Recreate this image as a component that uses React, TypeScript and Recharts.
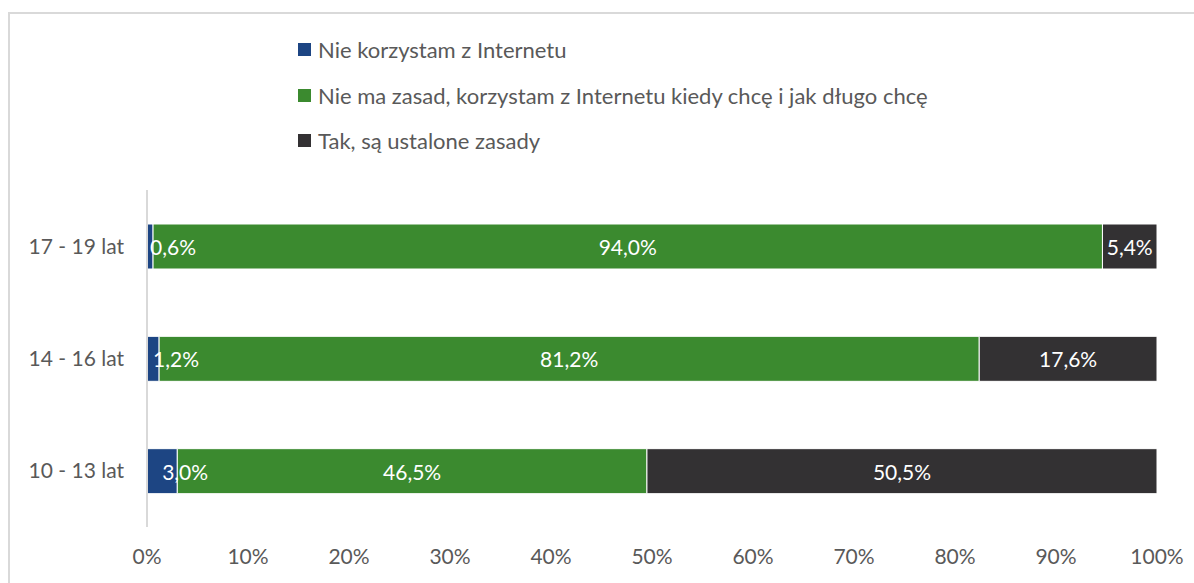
import React from "react";
import { BarChart, Bar, XAxis, YAxis, LabelList } from "recharts";

const categories = ["17 - 19 lat", "14 - 16 lat", "10 - 13 lat"];
const notUsing = [0.6, 1.2, 3.0];
const noRules = [94.0, 81.2, 46.5];
const rules = [5.4, 17.6, 50.5];
const xTicks = [0, 10, 20, 30, 40, 50, 60, 70, 80, 90, 100];
const seriesNames = [
  "Nie korzystam z Internetu",
  "Nie ma zasad, korzystam z Internetu kiedy chcę i jak długo chcę",
  "Tak, są ustalone zasady",
];
const colors = ["#1d4583", "#3b8a2f", "#333133"];

const data = categories.map((c, i) => ({
  name: c,
  a: notUsing[i],
  b: noRules[i],
  c: rules[i],
}));

const FONT = "Lato, 'Open Sans', sans-serif";

const fmt = (v: number) => v.toFixed(1).replace(".", ",") + "%";

const BarLabel = (props: any) => {
  const { x, y, width, height, value } = props;
  const narrow = width < 40;
  return (
    <text
      x={x + width / 2}
      y={y + height / 2}
      fill="#ffffff"
      fontSize={21}
      fontFamily={FONT}
      textAnchor={narrow ? "start" : "middle"}
      dominantBaseline="central"
    >
      {fmt(value)}
    </text>
  );
};

const LegendBlock = () => (
  <div
    style={{
      position: "absolute",
      left: 298,
      top: 27,
      fontFamily: FONT,
      fontSize: 22,
      color: "#595959",
      whiteSpace: "nowrap",
    }}
  >
    {seriesNames.map((n, i) => (
      <div key={n} style={{ display: "flex", alignItems: "center", height: 45.5 }}>
        <span
          style={{
            display: "inline-block",
            width: 13,
            height: 13,
            background: colors[i],
            marginRight: 7,
          }}
        />
        <span>{n}</span>
      </div>
    ))}
  </div>
);

export default function App() {
  return (
    <div style={{ position: "relative", width: 1194, height: 583, background: "#fff" }}>
      <style>{"body{margin:0;overflow:hidden;background:#fff}"}</style>
      <div
        style={{
          position: "absolute",
          left: 8,
          top: 12,
          width: 1186,
          height: 571,
          borderLeft: "2px solid #d9d9d9",
          borderTop: "2px solid #d9d9d9",
          boxSizing: "border-box",
        }}
      />
      <LegendBlock />
      <div style={{ position: "absolute", left: 0, top: 0 }}>
        <BarChart
          width={1194}
          height={583}
          data={data}
          layout="vertical"
          margin={{ top: 190, right: 37, left: 0, bottom: 0 }}
          barSize={45}
        >
          <XAxis
            type="number"
            domain={[0, 100]}
            ticks={xTicks}
            tickFormatter={(v: number) => `${v}%`}
            axisLine={false}
            tickLine={false}
            height={56}
            tickMargin={16}
            tick={{ fill: "#595959", fontSize: 21, fontFamily: FONT }}
            interval={0}
          />
          <YAxis
            type="category"
            dataKey="name"
            width={147}
            axisLine={{ stroke: "#d9d9d9", strokeWidth: 2 }}
            tickLine={false}
            tickMargin={17}
            tick={{ fill: "#595959", fontSize: 21, fontFamily: FONT }}
          />
          <Bar dataKey="a" stackId="s" fill={colors[0]} stroke="#ffffff" strokeWidth={1} isAnimationActive={false} name={seriesNames[0]}>
            <LabelList dataKey="a" content={<BarLabel />} />
          </Bar>
          <Bar dataKey="b" stackId="s" fill={colors[1]} stroke="#ffffff" strokeWidth={1} isAnimationActive={false} name={seriesNames[1]}>
            <LabelList dataKey="b" content={<BarLabel />} />
          </Bar>
          <Bar dataKey="c" stackId="s" fill={colors[2]} stroke="#ffffff" strokeWidth={1} isAnimationActive={false} name={seriesNames[2]}>
            <LabelList dataKey="c" content={<BarLabel />} />
          </Bar>
        </BarChart>
      </div>
    </div>
  );
}
